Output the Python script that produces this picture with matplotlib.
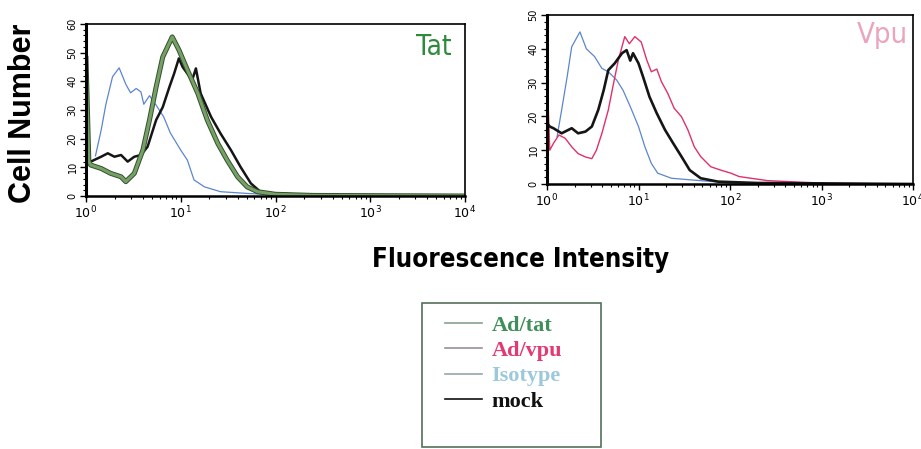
import matplotlib.pyplot as plt
import matplotlib.patheffects as pe
from matplotlib import font_manager as fm
from matplotlib.lines import Line2D
from matplotlib.patches import Rectangle
from matplotlib.ticker import LogLocator, MultipleLocator, NullFormatter
import numpy as np

# ---- data (log10 of fluorescence, cell count) ----
# Tat panel
tat_iso_x = [0.10, 0.16, 0.21, 0.28, 0.35, 0.42, 0.47, 0.53, 0.58, 0.61, 0.67, 0.74,
             0.82, 0.89, 1.00, 1.07, 1.14, 1.25, 1.42, 1.70, 2.00, 2.40, 4.00]
tat_iso_y = [14.0, 23.0, 32.0, 41.6, 44.7, 39.0, 36.0, 37.5, 36.3, 32.0, 35.0, 31.7,
             27.6, 22.0, 16.0, 12.5, 5.6, 3.2, 1.5, 0.9, 0.4, 0.1, 0.0]

tat_tat_x = [0.00, 0.03, 0.05, 0.16, 0.26, 0.37, 0.42, 0.51, 0.60, 0.67, 0.74, 0.81,
             0.91, 0.98, 1.07, 1.18, 1.28, 1.39, 1.49, 1.60, 1.70, 1.81, 2.00, 2.40, 4.00]
tat_tat_y = [48.0, 12.0, 10.8, 9.6, 7.9, 6.7, 5.0, 7.9, 16.0, 26.5, 38.0, 48.5,
             55.5, 51.0, 44.0, 35.8, 26.5, 18.4, 12.5, 6.7, 3.2, 1.5, 0.6, 0.2, 0.0]

tat_mock_x = [0.00, 0.03, 0.05, 0.16, 0.23, 0.30, 0.37, 0.44, 0.51, 0.58, 0.65, 0.74,
              0.81, 0.88, 0.93, 0.98, 1.02, 1.07, 1.12, 1.16, 1.21, 1.32, 1.42, 1.53,
              1.63, 1.74, 1.84, 2.00, 2.20, 2.40, 2.70, 4.00]
tat_mock_y = [30.0, 13.0, 12.0, 13.7, 14.9, 13.7, 14.3, 12.0, 13.7, 14.3, 17.2, 26.5,
              31.0, 38.0, 42.7, 48.0, 45.0, 42.7, 40.4, 44.5, 35.8, 27.6, 21.8, 16.0,
              10.2, 4.4, 1.5, 0.8, 0.6, 0.3, 0.2, 0.0]

# Vpu panel
vpu_iso_x = [0.11, 0.16, 0.22, 0.27, 0.36, 0.43, 0.52, 0.60, 0.67, 0.76, 0.83, 0.91,
             1.00, 1.07, 1.14, 1.21, 1.36, 1.58, 2.00, 2.50, 4.00]
vpu_iso_y = [14.0, 21.9, 31.7, 40.6, 45.0, 40.0, 37.7, 34.2, 33.2, 30.8, 27.8, 22.9,
             17.0, 11.0, 6.1, 3.2, 1.7, 1.2, 0.3, 0.1, 0.0]

vpu_vpu_x = [0.00, 0.03, 0.07, 0.13, 0.20, 0.27, 0.34, 0.42, 0.49, 0.54, 0.60, 0.67,
             0.72, 0.78, 0.85, 0.90, 0.96, 1.03, 1.09, 1.14, 1.20, 1.25, 1.32, 1.39,
             1.47, 1.54, 1.61, 1.68, 1.79, 1.90, 2.01, 2.10, 2.41, 2.80, 3.10, 4.00]
vpu_vpu_y = [33.0, 10.0, 12.0, 14.5, 13.5, 11.0, 9.0, 8.0, 7.5, 10.0, 15.0, 21.9,
             28.8, 36.7, 43.6, 41.5, 43.6, 42.0, 36.7, 33.2, 34.0, 30.3, 26.8, 22.4,
             19.9, 16.0, 11.0, 8.1, 5.1, 4.1, 3.2, 2.2, 1.0, 0.5, 0.2, 0.0]

vpu_mock_x = [0.00, 0.03, 0.07, 0.16, 0.27, 0.34, 0.42, 0.49, 0.56, 0.62, 0.67, 0.74,
              0.82, 0.87, 0.91, 0.94, 1.00, 1.05, 1.12, 1.20, 1.29, 1.38, 1.47, 1.56,
              1.68, 1.87, 2.30, 4.00]
vpu_mock_y = [18.0, 17.0, 16.5, 15.0, 16.5, 15.0, 15.5, 17.0, 21.9, 27.8, 33.7, 35.7,
              38.7, 39.6, 36.5, 38.7, 35.7, 31.7, 25.8, 20.9, 16.0, 12.0, 8.1, 4.1,
              1.7, 0.7, 0.3, 0.0]

legend_labels = ['Ad/tat', 'Ad/vpu', 'Isotype', 'mock']
legend_text_colors = ['#3f8f5a', '#e23a72', '#9cc8dc', '#111111']
legend_line_colors = ['#8aa08e', '#9a9098', '#98a6ac', '#111111']


def weight_num(w):
    if isinstance(w, int):
        return w
    return {'bold': 700, 'heavy': 800, 'black': 900, 'semibold': 600,
            'demibold': 600, 'light': 300, 'normal': 400, 'regular': 400,
            'book': 400, 'medium': 500, 'thin': 100}.get(str(w).lower(), 400)


# look for an upright narrow sans face, if one is installed
def find_narrow(want_bold):
    for f in fm.fontManager.ttflist:
        name = f.name.lower()
        narrow = ('narrow' in name or 'condensed' in name or
                  f.stretch in ('condensed', 'semi-condensed', 'extra-condensed'))
        if not narrow or f.style != 'normal' or 'mono' in name:
            continue
        w = weight_num(f.weight)
        if want_bold and w >= 700:
            return f.fname
        if not want_bold and w <= 400:
            return f.fname
    return None


narrow_bold = find_narrow(True)
narrow_reg = find_narrow(False)

W, H = 921, 449
fig = plt.figure(figsize=(W / 100, H / 100), dpi=100)


def px_axes(x0, y0, x1, y1):
    return fig.add_axes([x0 / W, 1 - y1 / H, (x1 - x0) / W, (y1 - y0) / H])


def style_axes(ax, ymax):
    ax.set_xscale('log')
    ax.set_xlim(1, 1e4)
    ax.set_ylim(0, ymax)
    ax.xaxis.set_minor_locator(LogLocator(base=10, subs=np.arange(2, 10), numticks=20))
    ax.xaxis.set_minor_formatter(NullFormatter())
    ax.set_xticks([1, 10, 100, 1000, 10000])
    ax.set_xticklabels([r'$10^{0}$', r'$10^{1}$', r'$10^{2}$', r'$10^{3}$', r'$10^{4}$'],
                       fontsize=9)
    ax.yaxis.set_major_locator(MultipleLocator(10))
    ax.yaxis.set_minor_locator(MultipleLocator(2))
    ax.tick_params(axis='y', which='major', labelsize=7, labelrotation=90, length=4,
                   width=1, pad=2)
    ax.tick_params(axis='y', which='minor', length=2, width=0.8)
    ax.tick_params(axis='x', which='major', length=4, width=1, pad=2)
    ax.tick_params(axis='x', which='minor', length=2.5, width=0.8)
    for lab in ax.get_yticklabels():
        lab.set_va('center')
    for side in ax.spines.values():
        side.set_linewidth(1.2)
    ax.spines['left'].set_linewidth(2.2)
    ax.spines['bottom'].set_linewidth(1.8)


def panel_label(ax, x, y, text, color, size):
    if narrow_reg:
        fp = fm.FontProperties(fname=narrow_reg, size=size)
    else:
        fp = fm.FontProperties(family='DejaVu Sans', size=size - 3)
    ax.text(x, y, text, transform=ax.transAxes, ha='right', va='center',
            color=color, fontproperties=fp)


# ---- left panel: Tat ----
ax1 = px_axes(86, 24, 465, 196)
ax1.plot(10 ** np.array(tat_iso_x), tat_iso_y, color='#5b86cf', lw=0.9)
ax1.plot(10 ** np.array(tat_mock_x), tat_mock_y, color='#151515', lw=1.8)
ax1.plot(10 ** np.array(tat_tat_x), tat_tat_y, color='#77a066', lw=2.2,
         path_effects=[pe.Stroke(linewidth=3.6, foreground='#33502e'), pe.Normal()])
style_axes(ax1, 60)
panel_label(ax1, 0.965, 0.865, 'Tat', '#2f8a3c', 20)

# ---- right panel: Vpu ----
ax2 = px_axes(547, 15, 913, 184)
ax2.plot(10 ** np.array(vpu_iso_x), vpu_iso_y, color='#5b86cf', lw=0.9)
ax2.plot(10 ** np.array(vpu_vpu_x), vpu_vpu_y, color='#e0306a', lw=1.0)
ax2.plot(10 ** np.array(vpu_mock_x), vpu_mock_y, color='#151515', lw=1.9)
style_axes(ax2, 50)
panel_label(ax2, 0.985, 0.88, 'Vpu', '#eaa4bd', 21)

# ---- shared labels ----
fig.text(23 / W, 1 - 113 / H, 'Cell Number', rotation=90, ha='center', va='center',
         fontsize=22, fontweight='bold', family=['Liberation Sans', 'DejaVu Sans'])
if narrow_bold:
    title_fp = fm.FontProperties(fname=narrow_bold, size=18.5)
else:
    title_fp = fm.FontProperties(family='Liberation Sans', weight='bold', size=17)
fig.text(521 / W, 1 - 260 / H, 'Fluorescence Intensity', ha='center', va='center',
         fontproperties=title_fp)

# ---- legend ----
fig.patches.append(Rectangle((422 / W, 1 - 447 / H), 179 / W, 144 / H,
                             transform=fig.transFigure, fill=False,
                             edgecolor='#55705a', lw=1.2))
handles = [Line2D([], [], color=c, lw=1.2) for c in legend_line_colors]
leg = fig.legend(handles, legend_labels, loc='upper left',
                 bbox_to_anchor=(445 / W, 1 - 315 / H), frameon=False,
                 prop={'family': ['Liberation Serif', 'DejaVu Serif'],
                       'weight': 'bold', 'size': 16},
                 handlelength=1.65, handletextpad=0.45, borderpad=0,
                 borderaxespad=0, labelspacing=0.22)
for txt, c in zip(leg.get_texts(), legend_text_colors):
    txt.set_color(c)

fig.savefig('out.png', dpi=100)
